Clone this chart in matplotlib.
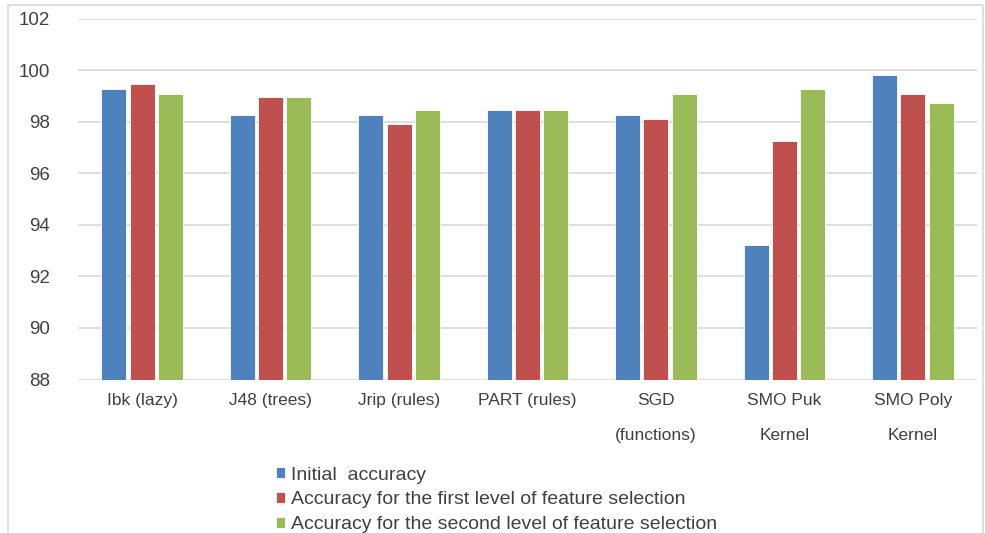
import matplotlib

matplotlib.use("Agg", force=True)
import matplotlib.pyplot as plt
import numpy as np
from matplotlib.lines import Line2D

categories = ["Ibk (lazy)", "J48 (trees)", "Jrip (rules)", "PART (rules)",
              "SGD\n(functions)", "SMO Puk\nKernel", "SMO Poly\nKernel"]
initial = [99.25, 98.25, 98.25, 98.47, 98.25, 93.2, 99.81]
first_level = [99.45, 98.96, 97.9, 98.47, 98.12, 97.26, 99.09]
second_level = [99.09, 98.96, 98.47, 98.47, 99.09, 99.25, 98.74]
series_names = ["Initial  accuracy",
                "Accuracy for the first level of feature selection",
                "Accuracy for the second level of feature selection"]
colors = ["#4F81BD", "#C0504D", "#9BBB59"]

plt.rcParams["font.family"] = ["Liberation Sans Narrow", "Liberation Sans", "DejaVu Sans"]

fig = plt.figure(figsize=(9.85, 5.33), dpi=100)
ax = fig.add_axes([78 / 985, 1 - 379.5 / 533, 899 / 985, 361 / 533])

x = np.arange(len(categories))
step = 0.22
width = 0.195
handles = []
for i, (vals, name, color) in enumerate(zip([initial, first_level, second_level], series_names, colors)):
    h = ax.bar(x + (i - 1) * step, np.array(vals) - 88, bottom=88, width=width,
               color=color, edgecolor="white", linewidth=0.6, label=name, zorder=3)
    handles.append(h)

ax.set_xlim(-0.5, len(categories) - 0.5)
ax.set_ylim(88, 102)
ax.set_yticks(np.arange(88, 103, 2))
ax.yaxis.grid(True, color="#D9D9D9", linewidth=1.2, zorder=0)
for s in ax.spines.values():
    s.set_visible(False)
ax.tick_params(axis="both", length=0, colors="#404040")
ax.tick_params(axis="y", pad=20, labelsize=13.5)
ax.tick_params(axis="x", pad=10, labelsize=12.5)
ax.set_xticks(x)
ax.set_xticklabels(categories, linespacing=2.6)

fig.legend(handles=handles, loc="upper left", bbox_to_anchor=(266 / 985, 1 - 457 / 533),
           frameon=False, fontsize=14, handlelength=0.5, handleheight=0.5,
           handletextpad=0.3, labelspacing=0.4, borderpad=0, labelcolor="#404040")

# chart-area frame (open at the bottom edge, like the cropped original)
frame_x = [8 / 985, 8 / 985, 983 / 985, 983 / 985]
frame_y = [0.0, 1 - 5 / 533, 1 - 5 / 533, 0.0]
fig.add_artist(Line2D(frame_x, frame_y, transform=fig.transFigure,
                      color="#D9D9D9", linewidth=1.2))

fig.savefig("out.png", dpi=100)
